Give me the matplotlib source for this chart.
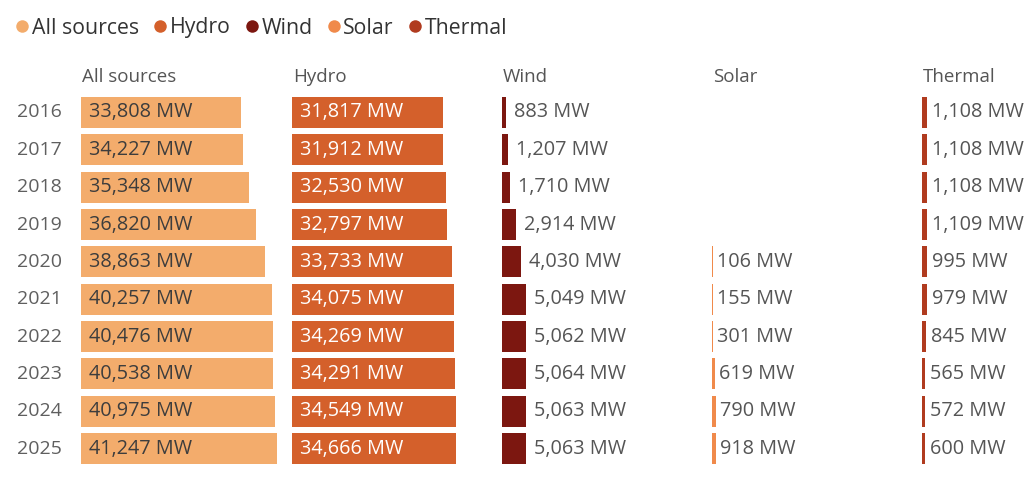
import matplotlib.pyplot as plt
from matplotlib.lines import Line2D

plt.rcParams['font.family'] = ['Open Sans', 'DejaVu Sans']

# dados
years = ['2016', '2017', '2018', '2019', '2020', '2021', '2022', '2023', '2024', '2025']
all_sources = [33808, 34227, 35348, 36820, 38863, 40257, 40476, 40538, 40975, 41247]
hydro = [31817, 31912, 32530, 32797, 33733, 34075, 34269, 34291, 34549, 34666]
wind = [883, 1207, 1710, 2914, 4030, 5049, 5062, 5064, 5063, 5063]
solar = [None, None, None, None, 106, 155, 301, 619, 790, 918]
thermal = [1108, 1108, 1108, 1109, 995, 979, 845, 565, 572, 600]

names = ['All sources', 'Hydro', 'Wind', 'Solar', 'Thermal']
colors = ['#f3ac6c', '#d4602b', '#7c1710', '#f08a4b', '#b03b1f']
series = [all_sources, hydro, wind, solar, thermal]

W, H = 1024, 499
fig = plt.figure(figsize=(W / 100, H / 100), dpi=100)

col_x = [81, 292, 502, 712, 922]   # inicio de cada coluna (px)
col_w = 100                       # largura do eixo (px)
px_per_mw = 0.00474
top_px, bot_px = 93.8, 467.3
label_offset = [8, 8, 8, 4, 5]
text_dark = '#3d3d3d'

for k, (name, vals, c) in enumerate(zip(names, series, colors)):
    ax = fig.add_axes([col_x[k] / W, 1 - bot_px / H, col_w / W, (bot_px - top_px) / H])
    ax.set_xlim(0, col_w / px_per_mw)
    ax.set_ylim(len(years) - 0.5, -0.5)
    ax.axis('off')
    for i, v in enumerate(vals):
        if v is None:
            continue
        ax.barh(i, v, height=0.83, color=c, linewidth=0, clip_on=False)
        lab = f'{v:,} MW'
        if k == 0:
            ax.annotate(lab, (0, i), xytext=(8, 0), textcoords='offset pixels',
                        va='center', ha='left', fontsize=14.3, color=text_dark,
                        annotation_clip=False)
        elif k == 1:
            ax.annotate(lab, (0, i), xytext=(8, 0), textcoords='offset pixels',
                        va='center', ha='left', fontsize=14.3, color='white',
                        annotation_clip=False)
        else:
            ax.annotate(lab, (v, i), xytext=(label_offset[k], 0), textcoords='offset pixels',
                        va='center', ha='left', fontsize=14.3, color='#555555',
                        annotation_clip=False)
    if k == 0:
        for i, y in enumerate(years):
            ax.annotate(y, (0, i), xytext=(-19, 0), textcoords='offset pixels',
                        va='center', ha='right', fontsize=14, color='#5f5f5f',
                        annotation_clip=False)
    fig.text((col_x[k] + 1) / W, 1 - 77 / H, name, ha='left', va='center',
             fontsize=13.5, color='#555555')

# legenda
handles = [Line2D([], [], marker='o', linestyle='none', markersize=9,
                  markerfacecolor=c, markeredgewidth=0) for c in colors]
fig.legend(handles, names, loc='center left', bbox_to_anchor=(0.003, 1 - 28 / H),
           ncol=5, frameon=False, fontsize=15.3, handlelength=0.6,
           handletextpad=0.15, columnspacing=0.7, labelcolor='#333333',
           borderaxespad=0, borderpad=0.6)

fig.savefig('out.png', dpi=100, facecolor='white')
